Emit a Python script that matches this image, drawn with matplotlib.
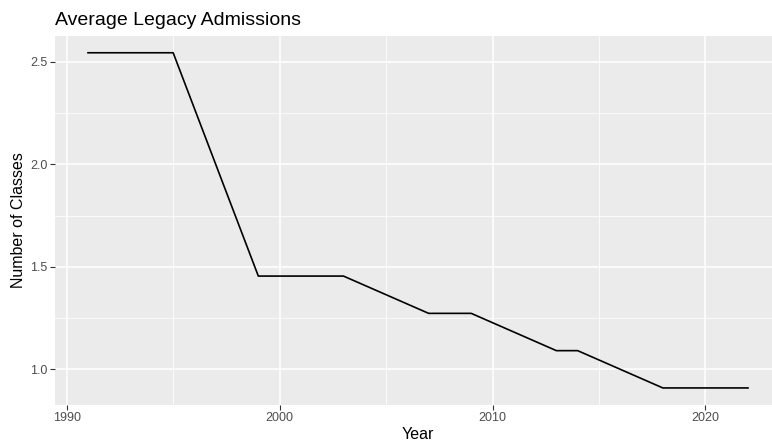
import numpy as np
import matplotlib
matplotlib.use('Agg')
import matplotlib.pyplot as plt
from matplotlib.ticker import FixedLocator

# data
years = [1991, 1995, 1999, 2003, 2007, 2009, 2013, 2014, 2018, 2022]
avg_classes = [2.545, 2.545, 1.455, 1.455, 1.273, 1.273, 1.091, 1.091, 0.909, 0.909]

x_ticks = [1990, 2000, 2010, 2020]
x_minor = [1995, 2005, 2015]
y_ticks = [1.0, 1.5, 2.0, 2.5]
y_minor = [1.25, 1.75, 2.25]

plt.rcParams['font.family'] = ['Liberation Sans', 'DejaVu Sans']

fig = plt.figure(figsize=(7.72, 4.42), dpi=100)
ax = fig.add_axes([55 / 772, 37.3 / 442, 726 / 772, 368.7 / 442])
ax.set_facecolor('#EBEBEB')

ax.plot(years, avg_classes, color='black', lw=1.2, zorder=3)

# ggplot-like padding
xr = max(years) - min(years)
yr = max(avg_classes) - min(avg_classes)
ax.set_xlim(min(years) - 0.05 * xr, max(years) + 0.05 * xr)
ax.set_ylim(min(avg_classes) - 0.05 * yr, max(avg_classes) + 0.05 * yr)

ax.xaxis.set_major_locator(FixedLocator(x_ticks))
ax.xaxis.set_minor_locator(FixedLocator(x_minor))
ax.yaxis.set_major_locator(FixedLocator(y_ticks))
ax.yaxis.set_minor_locator(FixedLocator(y_minor))
ax.set_xticklabels([str(t) for t in x_ticks])
ax.set_yticklabels([f'{t:.1f}' for t in y_ticks])

ax.grid(which='major', color='white', lw=1.1, zorder=1)
ax.grid(which='minor', color='white', lw=0.55, zorder=1)
ax.set_axisbelow(True)

for s in ax.spines.values():
    s.set_visible(False)
ax.tick_params(which='major', length=3.5, width=0.8, color='#333333',
               labelcolor='#4D4D4D', labelsize=9, pad=2)
ax.tick_params(which='minor', length=0)

ax.set_xlabel('Year', fontsize=11.5, labelpad=2)
ax.set_ylabel('Number of Classes', fontsize=11.5, labelpad=3)
ax.set_title('Average Legacy Admissions', fontsize=14, loc='left', pad=8)

fig.savefig('out.png', dpi=100)
